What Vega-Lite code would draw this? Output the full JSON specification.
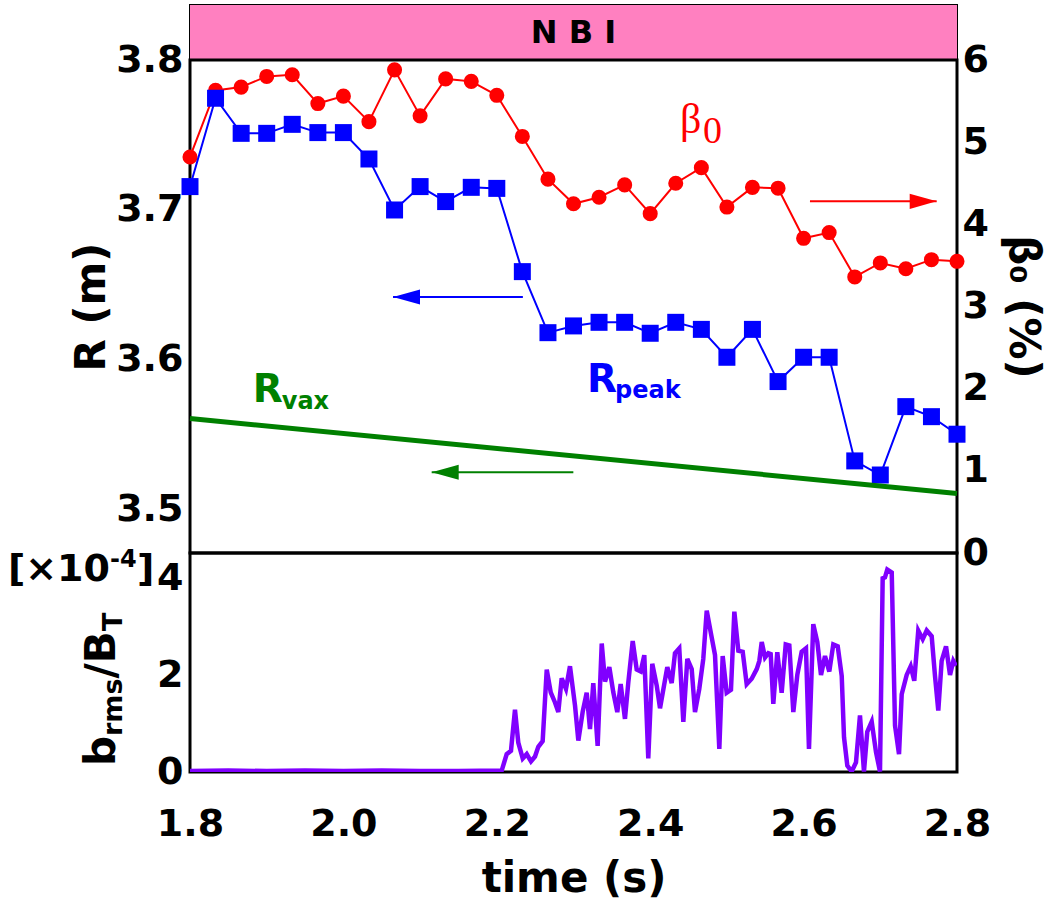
{
  "$schema": "https://vega.github.io/schema/vega-lite/v6.json",
  "padding": {"left": 6, "top": 2, "right": 30, "bottom": 0},
  "bounds": "flush",
  "spacing": 0,
  "config": {
    "view": {"stroke": "black", "strokeWidth": 3},
    "axis": {
      "grid": false, "domain": false, "tickColor": "black", "tickWidth": 2.5, "tickSize": 0,
      "labelFont": "DejaVu Sans", "labelFontWeight": "bold", "labelFontSize": 38, "labelColor": "black",
      "labelOverlap": false, "labelFlush": false, "labelBound": false,
      "titleFont": "DejaVu Sans", "titleFontWeight": "bold", "titleFontSize": 42, "titleColor": "black"
    }
  },
  "vconcat": [
    {
      "width": 767, "height": 55,
      "view": {"stroke": "black", "strokeWidth": 2},
      "data": {"values": [{"t": 1.8, "t2": 2.8, "tm": 2.3, "label": "N B I"}]},
      "layer": [
        {
          "mark": {"type": "rect", "color": "#ff80c0"},
          "encoding": {
            "x": {"field": "t", "type": "quantitative", "scale": {"domain": [1.8, 2.8], "nice": false, "zero": false},
              "axis": {"orient": "top", "values": [1.8,1.9,2.0,2.1,2.2,2.3,2.4,2.5,2.6,2.7,2.8], "labels": false, "title": null,
                "encode": {"ticks": {"update": {"y2": {"value": 6}}}}}},
            "x2": {"field": "t2"}
          }
        },
        {
          "mark": {"type": "text", "font": "DejaVu Sans", "fontWeight": "bold", "fontSize": 32, "color": "black", "baseline": "middle"},
          "encoding": {
            "x": {"field": "tm", "type": "quantitative"},
            "text": {"field": "label"}
          }
        }
      ]
    },
    {
      "width": 767, "height": 493,
      "layer": [
        {
          "encoding": {
            "x": {"field": "t", "type": "quantitative", "scale": {"domain": [1.8, 2.8], "nice": false, "zero": false},
              "axis": {"orient": "top", "values": [1.8,1.9,2.0,2.1,2.2,2.3,2.4,2.5,2.6,2.7,2.8], "labels": false, "title": null,
                "encode": {"ticks": {"update": {"y2": {"signal": "round(datum.value*10)%2==0 ? 18 : 9"}}}}}},
            "y": {"field": "v", "type": "quantitative", "scale": {"domain": [0, 6], "nice": false, "zero": false},
              "axis": {"orient": "right", "values": [0,0.5,1,1.5,2,2.5,3,3.5,4,4.5,5,5.5,6], "title": "β₀ (%)",
                "labelPadding": 5, "titlePadding": 12,
                "labelExpr": "round(datum.value*2)%2==0 ? format(datum.value,'d') : ''",
                "encode": {"ticks": {"update": {"x2": {"signal": "round(datum.value*2)%2==0 ? -15 : -9"}}}}}}
          },
          "layer": [
            {
              "data": {"values": [
                {"t": 1.8, "v": 4.82}, {"t": 1.8333, "v": 5.63}, {"t": 1.8667, "v": 5.67}, {"t": 1.9, "v": 5.80},
                {"t": 1.9333, "v": 5.82}, {"t": 1.9667, "v": 5.47}, {"t": 2.0, "v": 5.56}, {"t": 2.0333, "v": 5.25},
                {"t": 2.0667, "v": 5.88}, {"t": 2.1, "v": 5.32}, {"t": 2.1333, "v": 5.77}, {"t": 2.1667, "v": 5.74},
                {"t": 2.2, "v": 5.57}, {"t": 2.2333, "v": 5.07}, {"t": 2.2667, "v": 4.55}, {"t": 2.3, "v": 4.25},
                {"t": 2.3333, "v": 4.33}, {"t": 2.3667, "v": 4.48}, {"t": 2.4, "v": 4.13}, {"t": 2.4333, "v": 4.50},
                {"t": 2.4667, "v": 4.69}, {"t": 2.5, "v": 4.21}, {"t": 2.5333, "v": 4.45}, {"t": 2.5667, "v": 4.44},
                {"t": 2.6, "v": 3.83}, {"t": 2.6333, "v": 3.90}, {"t": 2.6667, "v": 3.36}, {"t": 2.7, "v": 3.53},
                {"t": 2.7333, "v": 3.46}, {"t": 2.7667, "v": 3.57}, {"t": 2.8, "v": 3.55}
              ]},
              "mark": {"type": "line", "color": "#ff0000", "strokeWidth": 2,
                "point": {"shape": "circle", "size": 227, "filled": true, "color": "#ff0000", "opacity": 1}}
            },
            {
              "data": {"values": [{"t": 2.7735, "t2": 2.6083, "v": 4.28}]},
              "layer": [
                {"mark": {"type": "rule", "color": "#ff0000", "strokeWidth": 2}, "encoding": {"x2": {"field": "t2"}}},
                {"mark": {"type": "point", "shape": "M0,0L-1,-0.28L-1,0.28Z", "size": 2916, "filled": true, "color": "#ff0000", "opacity": 1}, "encoding": {}}
              ]
            },
            {
              "data": {"values": [{"t": 2.4389, "v": 5.11, "label": "β"}]},
              "mark": {"type": "text", "font": "Liberation Serif", "fontSize": 42, "color": "#ff0000", "align": "left", "baseline": "alphabetic"},
              "encoding": {"text": {"field": "label"}}
            },
            {
              "data": {"values": [{"t": 2.4688, "v": 4.99, "label": "0"}]},
              "mark": {"type": "text", "font": "Liberation Serif", "fontSize": 38, "color": "#ff0000", "align": "left", "baseline": "alphabetic"},
              "encoding": {"text": {"field": "label"}}
            }
          ]
        },
        {
          "encoding": {
            "x": {"field": "t", "type": "quantitative", "scale": {"domain": [1.8, 2.8], "nice": false, "zero": false},
              "axis": {"orient": "bottom", "values": [1.8,1.9,2.0,2.1,2.2,2.3,2.4,2.5,2.6,2.7,2.8], "labels": false, "title": null,
                "encode": {"ticks": {"update": {"y2": {"signal": "round(datum.value*10)%2==0 ? -17 : -9"}}}}}},
            "y": {"field": "v", "type": "quantitative", "scale": {"domain": [3.4713, 3.8], "nice": false, "zero": false},
              "axis": {"orient": "left", "values": [3.5,3.55,3.6,3.65,3.7,3.75,3.8], "title": "R (m)",
                "labelPadding": 7, "titlePadding": 2,
                "labelExpr": "round(datum.value*100)%10==0 ? format(datum.value,'.1f') : ''",
                "encode": {"ticks": {"update": {"x2": {"signal": "round(datum.value*100)%10==0 ? 17 : 10"}}}}}}
          },
          "layer": [
            {
              "data": {"values": [
                {"t": 1.8, "v": 3.7156}, {"t": 1.8333, "v": 3.7745}, {"t": 1.8667, "v": 3.7511}, {"t": 1.9, "v": 3.7511},
                {"t": 1.9333, "v": 3.7571}, {"t": 1.9667, "v": 3.7516}, {"t": 2.0, "v": 3.7516}, {"t": 2.0333, "v": 3.734},
                {"t": 2.0667, "v": 3.700}, {"t": 2.1, "v": 3.7156}, {"t": 2.1333, "v": 3.7056}, {"t": 2.1667, "v": 3.7151},
                {"t": 2.2, "v": 3.7144}, {"t": 2.2333, "v": 3.6589}, {"t": 2.2667, "v": 3.6182}, {"t": 2.3, "v": 3.6227},
                {"t": 2.3333, "v": 3.6251}, {"t": 2.3667, "v": 3.6251}, {"t": 2.4, "v": 3.6178}, {"t": 2.4333, "v": 3.6251},
                {"t": 2.4667, "v": 3.6204}, {"t": 2.5, "v": 3.6018}, {"t": 2.5333, "v": 3.6204}, {"t": 2.5667, "v": 3.5856},
                {"t": 2.6, "v": 3.6018}, {"t": 2.6333, "v": 3.6018}, {"t": 2.6667, "v": 3.5327}, {"t": 2.7, "v": 3.5233},
                {"t": 2.7333, "v": 3.5689}, {"t": 2.7667, "v": 3.5622}, {"t": 2.8, "v": 3.5505}
              ]},
              "mark": {"type": "line", "color": "#0000ff", "strokeWidth": 2,
                "point": {"shape": "square", "size": 289, "filled": true, "color": "#0000ff", "opacity": 1}}
            },
            {
              "data": {"values": [{"t": 1.8, "v": 3.561}, {"t": 2.8, "v": 3.511}]},
              "mark": {"type": "line", "color": "#008000", "strokeWidth": 5}
            },
            {
              "data": {"values": [{"t": 2.0647, "t2": 2.234, "v": 3.642, "s": "peak"}, {"t": 2.1151, "t2": 2.2998, "v": 3.5251, "s": "vax"}]},
              "layer": [
                {"mark": {"type": "rule", "strokeWidth": 2}, "encoding": {"x2": {"field": "t2"},
                  "color": {"field": "s", "type": "nominal", "scale": {"domain": ["peak", "vax"], "range": ["#0000ff", "#008000"]}, "legend": null}}},
                {"mark": {"type": "point", "shape": "M0,0L1,-0.28L1,0.28Z", "size": 2916, "filled": true, "opacity": 1}, "encoding": {
                  "color": {"field": "s", "type": "nominal", "scale": {"domain": ["peak", "vax"], "range": ["#0000ff", "#008000"]}, "legend": null}}}
              ]
            },
            {
              "data": {"values": [{"t": 1.8817, "v": 3.5722, "label": "R", "s": "vax"}, {"t": 2.3176, "v": 3.5787, "label": "R", "s": "peak"}]},
              "mark": {"type": "text", "font": "DejaVu Sans", "fontWeight": "bold", "fontSize": 39, "align": "left", "baseline": "alphabetic"},
              "encoding": {"text": {"field": "label"},
                "color": {"field": "s", "type": "nominal", "scale": {"domain": ["peak", "vax"], "range": ["#0000ff", "#008000"]}, "legend": null}}
            },
            {
              "data": {"values": [{"t": 1.9196, "v": 3.5673, "label": "vax", "s": "vax"}, {"t": 2.3541, "v": 3.5747, "label": "peak", "s": "peak"}]},
              "mark": {"type": "text", "font": "DejaVu Sans", "fontWeight": "bold", "fontSize": 24, "align": "left", "baseline": "alphabetic"},
              "encoding": {"text": {"field": "label"},
                "color": {"field": "s", "type": "nominal", "scale": {"domain": ["peak", "vax"], "range": ["#0000ff", "#008000"]}, "legend": null}}
            }
          ]
        }
      ],
      "resolve": {"scale": {"y": "independent"}, "axis": {"x": "independent", "y": "independent"}}
    },
    {
      "width": 767, "height": 219,
      "layer": [
        {
          "data": {"values": [
            {"t": 1.8, "v": 0.02}, {"t": 1.85, "v": 0.03}, {"t": 1.9, "v": 0.02}, {"t": 1.95, "v": 0.03}, {"t": 2.0, "v": 0.02},
            {"t": 2.05, "v": 0.03}, {"t": 2.1, "v": 0.02}, {"t": 2.15, "v": 0.02}, {"t": 2.2064, "v": 0.03},
            {"t": 2.2129, "v": 0.37}, {"t": 2.2185, "v": 0.44}, {"t": 2.2237, "v": 1.29}, {"t": 2.228, "v": 0.61},
            {"t": 2.2338, "v": 0.28}, {"t": 2.239, "v": 0.37}, {"t": 2.2446, "v": 0.22}, {"t": 2.2498, "v": 0.32},
            {"t": 2.2541, "v": 0.52}, {"t": 2.2598, "v": 0.64}, {"t": 2.2651, "v": 2.12}, {"t": 2.2703, "v": 1.65},
            {"t": 2.2759, "v": 1.44}, {"t": 2.2802, "v": 1.24}, {"t": 2.2846, "v": 1.94}, {"t": 2.2902, "v": 1.72},
            {"t": 2.2954, "v": 2.19}, {"t": 2.302, "v": 1.37}, {"t": 2.3063, "v": 0.65}, {"t": 2.312, "v": 1.25},
            {"t": 2.3172, "v": 1.64}, {"t": 2.3215, "v": 0.89}, {"t": 2.3258, "v": 1.84}, {"t": 2.3315, "v": 0.54},
            {"t": 2.3368, "v": 2.66}, {"t": 2.3411, "v": 1.87}, {"t": 2.3467, "v": 2.17}, {"t": 2.3519, "v": 1.65},
            {"t": 2.3571, "v": 1.24}, {"t": 2.3615, "v": 1.82}, {"t": 2.3671, "v": 1.10}, {"t": 2.3715, "v": 1.86},
            {"t": 2.3772, "v": 2.71}, {"t": 2.3824, "v": 2.12}, {"t": 2.3876, "v": 2.08}, {"t": 2.3923, "v": 2.42},
            {"t": 2.3975, "v": 0.28}, {"t": 2.4027, "v": 2.24}, {"t": 2.4085, "v": 1.79}, {"t": 2.4128, "v": 1.32},
            {"t": 2.418, "v": 1.79}, {"t": 2.4223, "v": 2.17}, {"t": 2.428, "v": 1.84}, {"t": 2.4323, "v": 2.46},
            {"t": 2.4379, "v": 2.56}, {"t": 2.4432, "v": 1.04}, {"t": 2.4484, "v": 2.34}, {"t": 2.4541, "v": 2.13},
            {"t": 2.4584, "v": 1.24}, {"t": 2.464, "v": 1.72}, {"t": 2.4692, "v": 2.34}, {"t": 2.4737, "v": 3.34},
            {"t": 2.4793, "v": 2.86}, {"t": 2.4845, "v": 2.42}, {"t": 2.4901, "v": 0.48}, {"t": 2.4945, "v": 2.40},
            {"t": 2.4997, "v": 1.64}, {"t": 2.5053, "v": 1.70}, {"t": 2.5097, "v": 3.32}, {"t": 2.5149, "v": 2.51},
            {"t": 2.5206, "v": 2.49}, {"t": 2.5258, "v": 1.82}, {"t": 2.5323, "v": 1.93}, {"t": 2.5389, "v": 2.13},
            {"t": 2.5423, "v": 2.30}, {"t": 2.5454, "v": 2.69}, {"t": 2.5497, "v": 2.37}, {"t": 2.554, "v": 2.46},
            {"t": 2.5571, "v": 2.44}, {"t": 2.5605, "v": 1.41}, {"t": 2.5657, "v": 2.48}, {"t": 2.5714, "v": 1.64},
            {"t": 2.5767, "v": 2.64}, {"t": 2.5814, "v": 2.62}, {"t": 2.5866, "v": 1.24}, {"t": 2.5918, "v": 2.01},
            {"t": 2.5975, "v": 2.49}, {"t": 2.6031, "v": 2.56}, {"t": 2.607, "v": 0.48}, {"t": 2.6126, "v": 3.06},
            {"t": 2.6179, "v": 2.69}, {"t": 2.6227, "v": 2.01}, {"t": 2.6279, "v": 2.40}, {"t": 2.6335, "v": 2.08},
            {"t": 2.6387, "v": 2.64}, {"t": 2.6445, "v": 2.60}, {"t": 2.6497, "v": 1.99}, {"t": 2.6527, "v": 0.72},
            {"t": 2.657, "v": 0.13}, {"t": 2.6627, "v": 0.01}, {"t": 2.6683, "v": 0.20}, {"t": 2.6735, "v": 1.17},
            {"t": 2.6787, "v": 0.01}, {"t": 2.683, "v": 0.83}, {"t": 2.6888, "v": 1.04}, {"t": 2.6944, "v": 0.41},
            {"t": 2.6996, "v": 0.01}, {"t": 2.7031, "v": 4.01}, {"t": 2.7061, "v": 4.03}, {"t": 2.7091, "v": 4.19},
            {"t": 2.7149, "v": 4.13}, {"t": 2.7192, "v": 0.96}, {"t": 2.7244, "v": 0.37}, {"t": 2.7279, "v": 1.61},
            {"t": 2.7344, "v": 2.01}, {"t": 2.7396, "v": 2.19}, {"t": 2.7443, "v": 1.89}, {"t": 2.7495, "v": 2.93},
            {"t": 2.7553, "v": 2.75}, {"t": 2.7605, "v": 2.93}, {"t": 2.767, "v": 2.81}, {"t": 2.7713, "v": 1.99},
            {"t": 2.7756, "v": 1.27}, {"t": 2.78, "v": 2.30}, {"t": 2.7857, "v": 2.60}, {"t": 2.7909, "v": 2.01},
            {"t": 2.7952, "v": 2.30}, {"t": 2.7987, "v": 2.20}
          ]},
          "mark": {"type": "line", "color": "#8000ff", "strokeWidth": 4.5, "clip": true},
          "encoding": {
            "x": {"field": "t", "type": "quantitative", "scale": {"domain": [1.8, 2.8], "nice": false, "zero": false},
              "axis": {"orient": "bottom", "values": [1.8,1.9,2.0,2.1,2.2,2.3,2.4,2.5,2.6,2.7,2.8], "title": "time (s)",
                "labelPadding": 33, "titlePadding": 15,
                "labelExpr": "round(datum.value*10)%2==0 ? format(datum.value,'.1f') : ''",
                "encode": {"ticks": {"update": {"y2": {"signal": "round(datum.value*10)%2==0 ? -17 : -9"}}}}}},
            "y": {"field": "v", "type": "quantitative", "scale": {"domain": [0, 4.534], "nice": false, "zero": false},
              "axis": {"orient": "left", "values": [0,1,2,3,4], "title": null, "labelPadding": 7,
                "labelExpr": "datum.value%2==0 ? format(datum.value,'d') : ''",
                "encode": {"ticks": {"update": {"x2": {"signal": "datum.value%2==0 ? 17 : 9"}}}}}}
          }
        },
        {
          "encoding": {
            "x": {"field": "t", "type": "quantitative", "scale": {"domain": [1.8, 2.8], "nice": false, "zero": false},
              "axis": {"orient": "top", "values": [1.8,1.9,2.0,2.1,2.2,2.3,2.4,2.5,2.6,2.7,2.8], "labels": false, "title": null,
                "encode": {"ticks": {"update": {"y2": {"signal": "round(datum.value*10)%2==0 ? 18 : 9"}}}}}},
            "y": {"field": "v", "type": "quantitative", "scale": {"domain": [0, 4.534], "nice": false, "zero": false},
              "axis": {"orient": "right", "values": [0,1,2,3,4], "labels": false, "title": null,
                "encode": {"ticks": {"update": {"x2": {"signal": "datum.value%2==0 ? -17 : -10"}}}}}}
          },
          "layer": [
            {
              "data": {"values": [{"t": 1.7022, "v": 0.124, "label": "b"}, {"t": 1.7022, "v": 1.936, "label": "/B"}]},
              "mark": {"type": "text", "font": "DejaVu Sans", "fontWeight": "bold", "fontSize": 42, "color": "black", "angle": 270, "align": "left", "baseline": "alphabetic"},
              "encoding": {"text": {"field": "label"}}
            },
            {
              "data": {"values": [{"t": 1.7113, "v": 0.745, "label": "rms"}, {"t": 1.7113, "v": 2.919, "label": "T"}]},
              "mark": {"type": "text", "font": "DejaVu Sans", "fontWeight": "bold", "fontSize": 27, "color": "black", "angle": 270, "align": "left", "baseline": "alphabetic"},
              "encoding": {"text": {"field": "label"}}
            },
            {
              "data": {"values": [{"t": 1.6957, "v": 3.954, "label": "[×10"}]},
              "mark": {"type": "text", "font": "DejaVu Sans", "fontWeight": "bold", "fontSize": 38, "color": "black", "align": "right", "baseline": "alphabetic"},
              "encoding": {"text": {"field": "label"}}
            },
            {
              "data": {"values": [{"t": 1.6957, "v": 4.244, "label": "-4"}]},
              "mark": {"type": "text", "font": "DejaVu Sans", "fontWeight": "bold", "fontSize": 24, "color": "black", "align": "left", "baseline": "alphabetic"},
              "encoding": {"text": {"field": "label"}}
            },
            {
              "data": {"values": [{"t": 1.7309, "v": 3.954, "label": "]"}]},
              "mark": {"type": "text", "font": "DejaVu Sans", "fontWeight": "bold", "fontSize": 38, "color": "black", "align": "left", "baseline": "alphabetic"},
              "encoding": {"text": {"field": "label"}}
            }
          ]
        }
      ],
      "resolve": {"axis": {"x": "independent", "y": "independent"}}
    }
  ]
}
